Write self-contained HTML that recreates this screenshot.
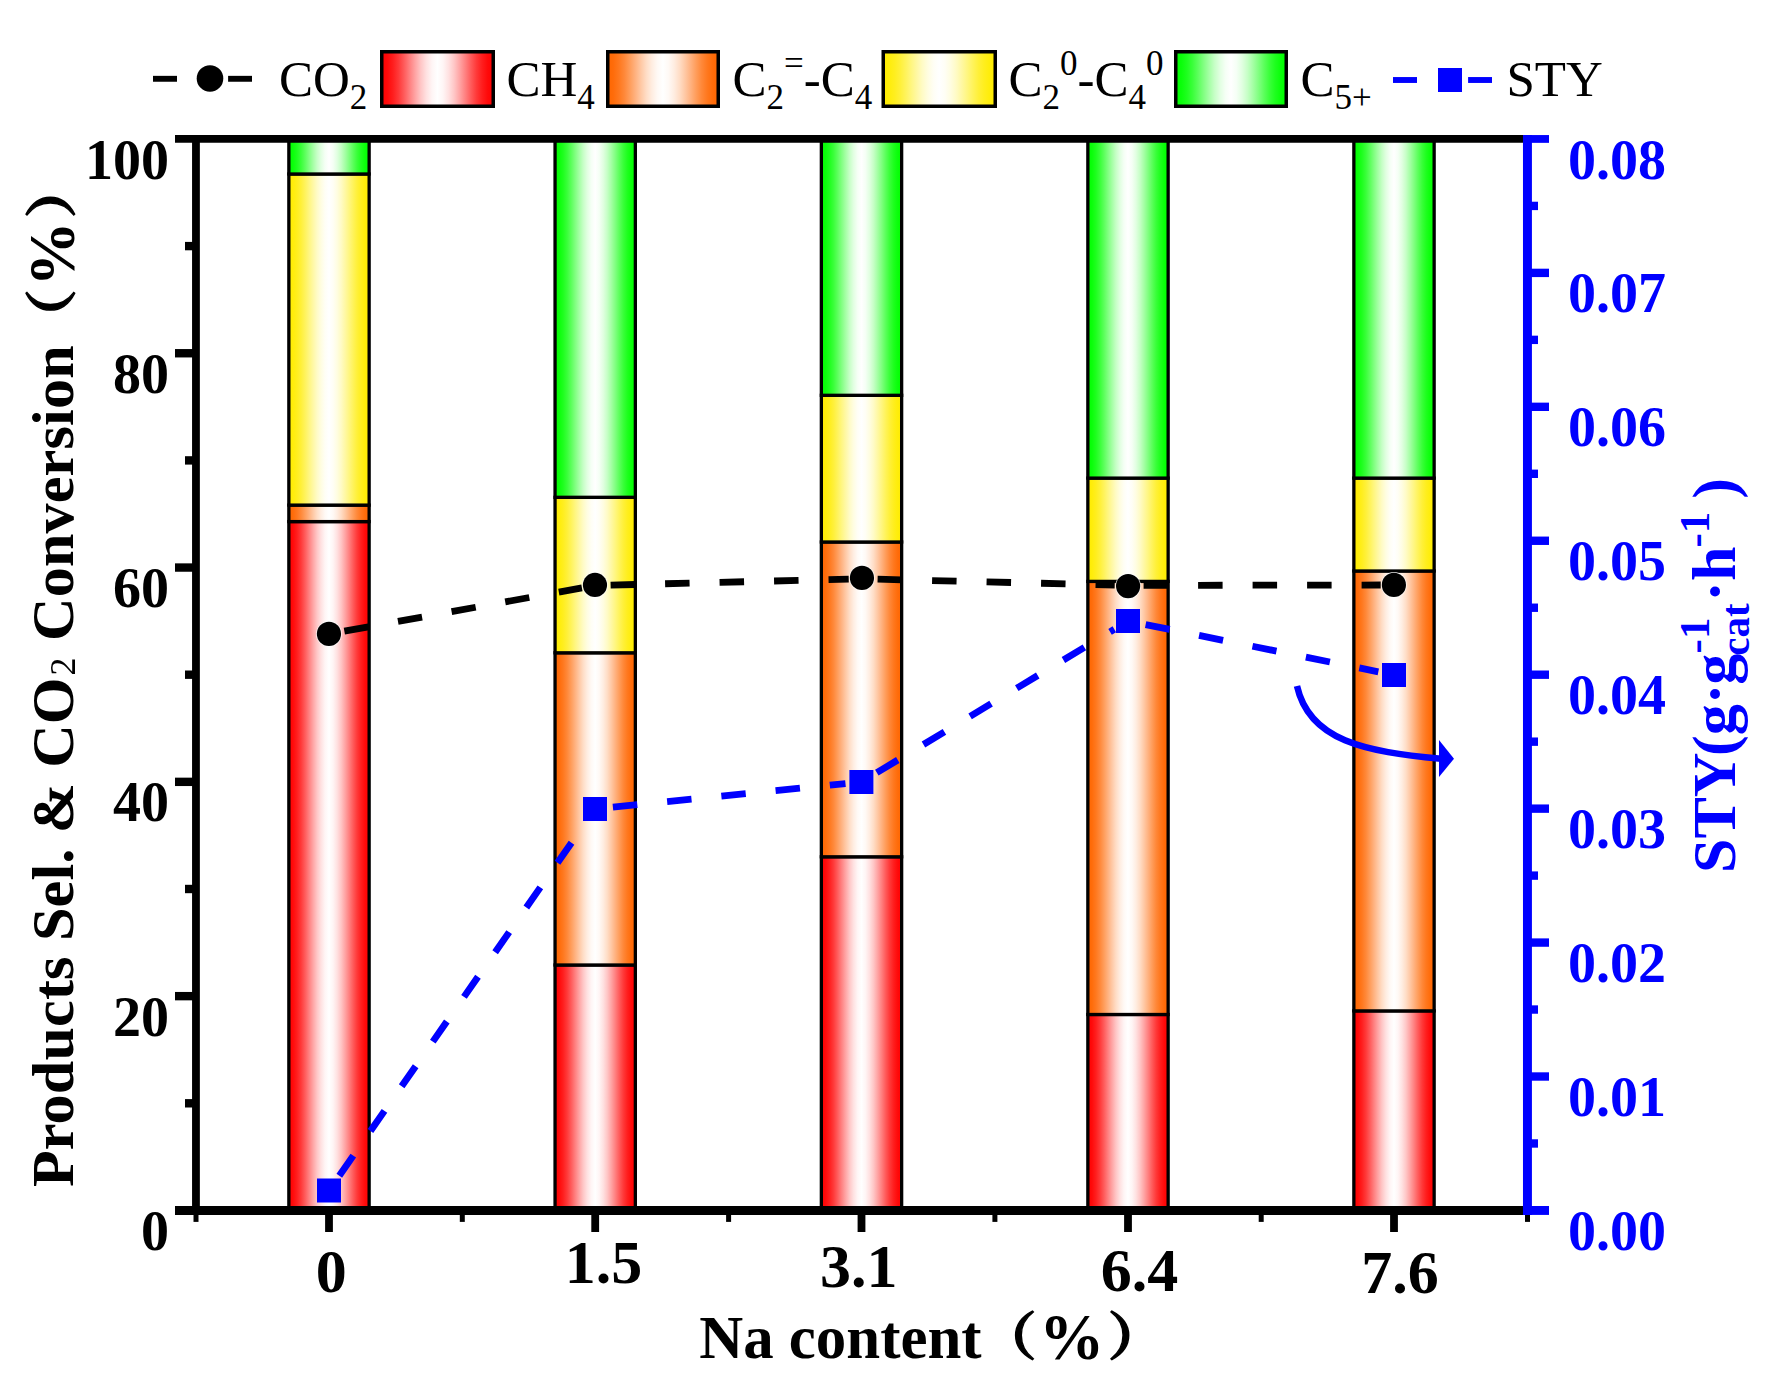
<!DOCTYPE html>
<html lang="en">
<head>
<meta charset="utf-8">
<title>Products Sel. &amp; CO2 Conversion vs Na content</title>
<style>
html,body{margin:0;padding:0;background:#fff;}
body{width:1776px;height:1392px;overflow:hidden;}
svg{display:block;}
</style>
</head>
<body>
<svg width="1776" height="1392" viewBox="0 0 1776 1392">
<defs>
<linearGradient id="g_red" x1="0" y1="0" x2="1" y2="0"><stop offset="0.000" stop-color="rgb(255,0,0)"/><stop offset="0.050" stop-color="rgb(255,10,10)"/><stop offset="0.100" stop-color="rgb(255,30,30)"/><stop offset="0.150" stop-color="rgb(255,57,57)"/><stop offset="0.200" stop-color="rgb(255,91,91)"/><stop offset="0.250" stop-color="rgb(255,128,128)"/><stop offset="0.300" stop-color="rgb(255,164,164)"/><stop offset="0.350" stop-color="rgb(255,198,198)"/><stop offset="0.400" stop-color="rgb(255,225,225)"/><stop offset="0.450" stop-color="rgb(255,245,245)"/><stop offset="0.500" stop-color="rgb(255,255,255)"/><stop offset="0.550" stop-color="rgb(255,245,245)"/><stop offset="0.600" stop-color="rgb(255,225,225)"/><stop offset="0.650" stop-color="rgb(255,198,198)"/><stop offset="0.700" stop-color="rgb(255,164,164)"/><stop offset="0.750" stop-color="rgb(255,128,128)"/><stop offset="0.800" stop-color="rgb(255,91,91)"/><stop offset="0.850" stop-color="rgb(255,57,57)"/><stop offset="0.900" stop-color="rgb(255,30,30)"/><stop offset="0.950" stop-color="rgb(255,10,10)"/><stop offset="1.000" stop-color="rgb(255,0,0)"/></linearGradient>
<linearGradient id="g_orange" x1="0" y1="0" x2="1" y2="0"><stop offset="0.000" stop-color="rgb(255,102,0)"/><stop offset="0.050" stop-color="rgb(255,108,10)"/><stop offset="0.100" stop-color="rgb(255,120,30)"/><stop offset="0.150" stop-color="rgb(255,136,57)"/><stop offset="0.200" stop-color="rgb(255,157,91)"/><stop offset="0.250" stop-color="rgb(255,178,128)"/><stop offset="0.300" stop-color="rgb(255,200,164)"/><stop offset="0.350" stop-color="rgb(255,221,198)"/><stop offset="0.400" stop-color="rgb(255,237,225)"/><stop offset="0.450" stop-color="rgb(255,249,245)"/><stop offset="0.500" stop-color="rgb(255,255,255)"/><stop offset="0.550" stop-color="rgb(255,249,245)"/><stop offset="0.600" stop-color="rgb(255,237,225)"/><stop offset="0.650" stop-color="rgb(255,221,198)"/><stop offset="0.700" stop-color="rgb(255,200,164)"/><stop offset="0.750" stop-color="rgb(255,178,128)"/><stop offset="0.800" stop-color="rgb(255,157,91)"/><stop offset="0.850" stop-color="rgb(255,136,57)"/><stop offset="0.900" stop-color="rgb(255,120,30)"/><stop offset="0.950" stop-color="rgb(255,108,10)"/><stop offset="1.000" stop-color="rgb(255,102,0)"/></linearGradient>
<linearGradient id="g_yellow" x1="0" y1="0" x2="1" y2="0"><stop offset="0.000" stop-color="rgb(255,236,0)"/><stop offset="0.050" stop-color="rgb(255,237,10)"/><stop offset="0.100" stop-color="rgb(255,238,30)"/><stop offset="0.150" stop-color="rgb(255,240,57)"/><stop offset="0.200" stop-color="rgb(255,243,91)"/><stop offset="0.250" stop-color="rgb(255,246,128)"/><stop offset="0.300" stop-color="rgb(255,248,164)"/><stop offset="0.350" stop-color="rgb(255,251,198)"/><stop offset="0.400" stop-color="rgb(255,253,225)"/><stop offset="0.450" stop-color="rgb(255,254,245)"/><stop offset="0.500" stop-color="rgb(255,255,255)"/><stop offset="0.550" stop-color="rgb(255,254,245)"/><stop offset="0.600" stop-color="rgb(255,253,225)"/><stop offset="0.650" stop-color="rgb(255,251,198)"/><stop offset="0.700" stop-color="rgb(255,248,164)"/><stop offset="0.750" stop-color="rgb(255,246,128)"/><stop offset="0.800" stop-color="rgb(255,243,91)"/><stop offset="0.850" stop-color="rgb(255,240,57)"/><stop offset="0.900" stop-color="rgb(255,238,30)"/><stop offset="0.950" stop-color="rgb(255,237,10)"/><stop offset="1.000" stop-color="rgb(255,236,0)"/></linearGradient>
<linearGradient id="g_green" x1="0" y1="0" x2="1" y2="0"><stop offset="0.000" stop-color="rgb(0,255,0)"/><stop offset="0.050" stop-color="rgb(10,255,10)"/><stop offset="0.100" stop-color="rgb(30,255,30)"/><stop offset="0.150" stop-color="rgb(57,255,57)"/><stop offset="0.200" stop-color="rgb(91,255,91)"/><stop offset="0.250" stop-color="rgb(128,255,128)"/><stop offset="0.300" stop-color="rgb(164,255,164)"/><stop offset="0.350" stop-color="rgb(198,255,198)"/><stop offset="0.400" stop-color="rgb(225,255,225)"/><stop offset="0.450" stop-color="rgb(245,255,245)"/><stop offset="0.500" stop-color="rgb(255,255,255)"/><stop offset="0.550" stop-color="rgb(245,255,245)"/><stop offset="0.600" stop-color="rgb(225,255,225)"/><stop offset="0.650" stop-color="rgb(198,255,198)"/><stop offset="0.700" stop-color="rgb(164,255,164)"/><stop offset="0.750" stop-color="rgb(128,255,128)"/><stop offset="0.800" stop-color="rgb(91,255,91)"/><stop offset="0.850" stop-color="rgb(57,255,57)"/><stop offset="0.900" stop-color="rgb(30,255,30)"/><stop offset="0.950" stop-color="rgb(10,255,10)"/><stop offset="1.000" stop-color="rgb(0,255,0)"/></linearGradient>
</defs>
<rect x="288.85" y="521.60" width="80.30" height="688.85" fill="url(#g_red)" stroke="#000" stroke-width="3.30"/>
<rect x="288.85" y="505.10" width="80.30" height="16.50" fill="url(#g_orange)" stroke="#000" stroke-width="3.30"/>
<rect x="288.85" y="174.00" width="80.30" height="331.10" fill="url(#g_yellow)" stroke="#000" stroke-width="3.30"/>
<rect x="288.85" y="138.95" width="80.30" height="35.05" fill="url(#g_green)" stroke="#000" stroke-width="3.30"/>
<rect x="555.05" y="965.00" width="80.30" height="245.45" fill="url(#g_red)" stroke="#000" stroke-width="3.30"/>
<rect x="555.05" y="652.80" width="80.30" height="312.20" fill="url(#g_orange)" stroke="#000" stroke-width="3.30"/>
<rect x="555.05" y="497.30" width="80.30" height="155.50" fill="url(#g_yellow)" stroke="#000" stroke-width="3.30"/>
<rect x="555.05" y="138.95" width="80.30" height="358.35" fill="url(#g_green)" stroke="#000" stroke-width="3.30"/>
<rect x="821.35" y="856.80" width="80.30" height="353.65" fill="url(#g_red)" stroke="#000" stroke-width="3.30"/>
<rect x="821.35" y="542.00" width="80.30" height="314.80" fill="url(#g_orange)" stroke="#000" stroke-width="3.30"/>
<rect x="821.35" y="395.30" width="80.30" height="146.70" fill="url(#g_yellow)" stroke="#000" stroke-width="3.30"/>
<rect x="821.35" y="138.95" width="80.30" height="256.35" fill="url(#g_green)" stroke="#000" stroke-width="3.30"/>
<rect x="1087.85" y="1014.50" width="80.30" height="195.95" fill="url(#g_red)" stroke="#000" stroke-width="3.30"/>
<rect x="1087.85" y="581.40" width="80.30" height="433.10" fill="url(#g_orange)" stroke="#000" stroke-width="3.30"/>
<rect x="1087.85" y="478.10" width="80.30" height="103.30" fill="url(#g_yellow)" stroke="#000" stroke-width="3.30"/>
<rect x="1087.85" y="138.95" width="80.30" height="339.15" fill="url(#g_green)" stroke="#000" stroke-width="3.30"/>
<rect x="1353.85" y="1010.90" width="80.30" height="199.55" fill="url(#g_red)" stroke="#000" stroke-width="3.30"/>
<rect x="1353.85" y="571.00" width="80.30" height="439.90" fill="url(#g_orange)" stroke="#000" stroke-width="3.30"/>
<rect x="1353.85" y="478.10" width="80.30" height="92.90" fill="url(#g_yellow)" stroke="#000" stroke-width="3.30"/>
<rect x="1353.85" y="138.95" width="80.30" height="339.15" fill="url(#g_green)" stroke="#000" stroke-width="3.30"/>
<g stroke="#000" fill="none">
<line x1="175" y1="138.95" x2="1523.28" y2="138.95" stroke-width="7.80"/>
<line x1="175" y1="1210.45" x2="1523.28" y2="1210.45" stroke-width="8.95"/>
<line x1="195.96" y1="135.05" x2="195.96" y2="1214.92" stroke-width="7.80"/>
<line x1="185" y1="1103.30" x2="195.96" y2="1103.30" stroke-width="8.4"/>
<line x1="175" y1="996.15" x2="195.96" y2="996.15" stroke-width="8.4"/>
<line x1="185" y1="889.00" x2="195.96" y2="889.00" stroke-width="8.4"/>
<line x1="175" y1="781.85" x2="195.96" y2="781.85" stroke-width="8.4"/>
<line x1="185" y1="674.70" x2="195.96" y2="674.70" stroke-width="8.4"/>
<line x1="175" y1="567.55" x2="195.96" y2="567.55" stroke-width="8.4"/>
<line x1="185" y1="460.40" x2="195.96" y2="460.40" stroke-width="8.4"/>
<line x1="175" y1="353.25" x2="195.96" y2="353.25" stroke-width="8.4"/>
<line x1="185" y1="246.10" x2="195.96" y2="246.10" stroke-width="8.4"/>
<line x1="329.00" y1="1210.45" x2="329.00" y2="1232" stroke-width="7.8"/>
<line x1="595.20" y1="1210.45" x2="595.20" y2="1232" stroke-width="7.8"/>
<line x1="861.50" y1="1210.45" x2="861.50" y2="1232" stroke-width="7.8"/>
<line x1="1128.00" y1="1210.45" x2="1128.00" y2="1232" stroke-width="7.8"/>
<line x1="1394.00" y1="1210.45" x2="1394.00" y2="1232" stroke-width="7.8"/>
<line x1="196.00" y1="1210.45" x2="196.00" y2="1221.9" stroke-width="5"/>
<line x1="462.30" y1="1210.45" x2="462.30" y2="1221.9" stroke-width="5"/>
<line x1="728.60" y1="1210.45" x2="728.60" y2="1221.9" stroke-width="5"/>
<line x1="994.90" y1="1210.45" x2="994.90" y2="1221.9" stroke-width="5"/>
<line x1="1261.20" y1="1210.45" x2="1261.20" y2="1221.9" stroke-width="5"/>
<line x1="1527.50" y1="1210.45" x2="1527.50" y2="1221.9" stroke-width="5"/>
</g>
<g stroke="#0000ff" fill="none">
<line x1="1527.45" y1="135.05" x2="1527.45" y2="1214.92" stroke-width="8.95"/>
<line x1="1527.45" y1="1210.45" x2="1549" y2="1210.45" stroke-width="8.95"/>
<line x1="1527.45" y1="1143.48" x2="1538" y2="1143.48" stroke-width="8.40"/>
<line x1="1527.45" y1="1076.51" x2="1549" y2="1076.51" stroke-width="8.40"/>
<line x1="1527.45" y1="1009.54" x2="1538" y2="1009.54" stroke-width="8.40"/>
<line x1="1527.45" y1="942.58" x2="1549" y2="942.58" stroke-width="8.40"/>
<line x1="1527.45" y1="875.61" x2="1538" y2="875.61" stroke-width="8.40"/>
<line x1="1527.45" y1="808.64" x2="1549" y2="808.64" stroke-width="8.40"/>
<line x1="1527.45" y1="741.67" x2="1538" y2="741.67" stroke-width="8.40"/>
<line x1="1527.45" y1="674.70" x2="1549" y2="674.70" stroke-width="8.40"/>
<line x1="1527.45" y1="607.73" x2="1538" y2="607.73" stroke-width="8.40"/>
<line x1="1527.45" y1="540.76" x2="1549" y2="540.76" stroke-width="8.40"/>
<line x1="1527.45" y1="473.79" x2="1538" y2="473.79" stroke-width="8.40"/>
<line x1="1527.45" y1="406.83" x2="1549" y2="406.83" stroke-width="8.40"/>
<line x1="1527.45" y1="339.86" x2="1538" y2="339.86" stroke-width="8.40"/>
<line x1="1527.45" y1="272.89" x2="1549" y2="272.89" stroke-width="8.40"/>
<line x1="1527.45" y1="205.92" x2="1538" y2="205.92" stroke-width="8.40"/>
<line x1="1527.45" y1="138.95" x2="1549" y2="138.95" stroke-width="7.80"/>
</g>
<line x1="344.35" y1="631.20" x2="581.92" y2="587.89" stroke="#000" stroke-width="6.80" stroke-dasharray="24.5 30.0"/>
<line x1="610.60" y1="585.11" x2="848.70" y2="579.13" stroke="#000" stroke-width="6.80" stroke-dasharray="24.5 30.0"/>
<line x1="877.60" y1="579.19" x2="1114.70" y2="585.07" stroke="#000" stroke-width="6.80" stroke-dasharray="24.5 30.0"/>
<line x1="1143.60" y1="585.38" x2="1380.70" y2="585.02" stroke="#000" stroke-width="6.80" stroke-dasharray="24.5 30.0"/>
<circle cx="328.95" cy="633.90" r="12.8" fill="#fff" fill-opacity="0.85"/>
<circle cx="328.95" cy="633.90" r="12.1" fill="#000"/>
<circle cx="594.97" cy="584.95" r="12.8" fill="#fff" fill-opacity="0.85"/>
<circle cx="594.97" cy="584.95" r="12.1" fill="#000"/>
<circle cx="861.95" cy="577.90" r="12.8" fill="#fff" fill-opacity="0.85"/>
<circle cx="861.95" cy="577.90" r="12.1" fill="#000"/>
<circle cx="1128.10" cy="586.10" r="12.8" fill="#fff" fill-opacity="0.85"/>
<circle cx="1128.10" cy="586.10" r="12.1" fill="#000"/>
<circle cx="1393.90" cy="584.90" r="12.8" fill="#fff" fill-opacity="0.85"/>
<circle cx="1393.90" cy="584.90" r="12.1" fill="#000"/>
<line x1="339.30" y1="1175.73" x2="585.85" y2="822.12" stroke="#0000ff" stroke-width="6.80" stroke-dasharray="24.5 30.0"/>
<line x1="612.91" y1="807.18" x2="845.48" y2="783.61" stroke="#0000ff" stroke-width="6.80" stroke-dasharray="24.5 30.0"/>
<line x1="876.81" y1="772.69" x2="1114.30" y2="629.27" stroke="#0000ff" stroke-width="6.80" stroke-dasharray="24.5 30.0"/>
<line x1="1145.64" y1="624.58" x2="1378.32" y2="671.82" stroke="#0000ff" stroke-width="6.80" stroke-dasharray="24.5 30.0"/>
<rect x="317.00" y="1178.50" width="24" height="24" fill="#0000ff"/>
<rect x="583.00" y="797.00" width="24" height="24" fill="#0000ff"/>
<rect x="849.40" y="770.00" width="24" height="24" fill="#0000ff"/>
<rect x="1116.00" y="609.00" width="24" height="24" fill="#0000ff"/>
<rect x="1382.00" y="663.00" width="24" height="24" fill="#0000ff"/>
<path d="M1297,686 C1309.3,740.8 1364.7,751.6 1441,758.8" fill="none" stroke="#0000ff" stroke-width="6.5"/>
<polygon points="1439,740 1439,777 1454,758.7" fill="#0000ff"/>
<g font-family='"Liberation Serif", "Noto Serif CJK SC", serif' font-weight="bold" font-size="56" fill="#000" text-anchor="end">
<text x="169" y="1250.05">0</text>
<text x="169" y="1035.75">20</text>
<text x="169" y="821.45">40</text>
<text x="169" y="607.15">60</text>
<text x="169" y="392.85">80</text>
<text x="169" y="178.55">100</text>
</g>
<g font-family='"Liberation Serif", "Noto Serif CJK SC", serif' font-weight="bold" font-size="56" fill="#0000ff" text-anchor="start">
<text x="1568" y="1250.05">0.00</text>
<text x="1568" y="1116.11">0.01</text>
<text x="1568" y="982.18">0.02</text>
<text x="1568" y="848.24">0.03</text>
<text x="1568" y="714.30">0.04</text>
<text x="1568" y="580.36">0.05</text>
<text x="1568" y="446.43">0.06</text>
<text x="1568" y="312.49">0.07</text>
<text x="1568" y="178.55">0.08</text>
</g>
<g font-family='"Liberation Serif", "Noto Serif CJK SC", serif' font-weight="bold" font-size="62" fill="#000" text-anchor="middle">
<text x="331.20" y="1292.30">0</text>
<text x="603.40" y="1282.50">1.5</text>
<text x="858.80" y="1286.50">3.1</text>
<text x="1139.50" y="1290.50">6.4</text>
<text x="1400.00" y="1292.80">7.6</text>
</g>
<text x="699.3" y="1358" font-family='"Liberation Serif", "Noto Serif CJK SC", serif' font-weight="bold" font-size="60.85" fill="#000" xml:space="preserve">Na content</text>
<text transform="translate(977.4,1354.6) scale(1.153,1)" font-family='"Liberation Serif", "Noto Serif CJK SC", serif' font-weight="bold" font-size="51.5" stroke="#000" stroke-width="1.25" fill="#000">（</text>
<text x="1039.3" y="1358.7" font-family='"Liberation Serif", "Noto Serif CJK SC", serif' font-weight="bold" font-size="65" fill="#000">%</text>
<text transform="translate(1107.4,1354.6) scale(1.153,1)" font-family='"Liberation Serif", "Noto Serif CJK SC", serif' font-weight="bold" font-size="51.5" stroke="#000" stroke-width="1.25" fill="#000">）</text>
<text transform="translate(72.8,1187.1) rotate(-90)" font-family='"Liberation Serif", "Noto Serif CJK SC", serif' font-weight="bold" font-size="60.15" letter-spacing="0.17" fill="#000" xml:space="preserve">Products Sel. &amp; CO<tspan dy="-9.6" font-weight="normal">₂</tspan><tspan dy="9.6"> Conversion</tspan></text>
<text transform="translate(70.1,348.2) rotate(-90) scale(1.153,1)" font-family='"Liberation Serif", "Noto Serif CJK SC", serif' font-weight="bold" font-size="51.5" stroke="#000" stroke-width="1.25" fill="#000">（</text>
<text transform="translate(73.9,286.4) rotate(-90)" font-family='"Liberation Serif", "Noto Serif CJK SC", serif' font-weight="bold" font-size="65" fill="#000">%</text>
<text transform="translate(70.1,218.4) rotate(-90) scale(1.153,1)" font-family='"Liberation Serif", "Noto Serif CJK SC", serif' font-weight="bold" font-size="51.5" stroke="#000" stroke-width="1.25" fill="#000">）</text>
<text transform="translate(1734.5,873) rotate(-90)" font-family='"Liberation Serif", "Noto Serif CJK SC", serif' font-weight="bold" font-size="62" fill="#0000ff" xml:space="preserve">STY<tspan dx="-3.5">(g·</tspan><tspan dx="-1.2">g</tspan><tspan font-size="41" dy="14" dx="-2">cat</tspan><tspan font-size="43" dx="-50" dy="-40">-1</tspan><tspan dy="26" dx="15.8">·h</tspan><tspan font-size="43" dy="-26" dx="-1">-1</tspan><tspan dy="26" dx="-2.5"> )</tspan></text>
<g stroke="#000" stroke-width="5.9"><line x1="153" y1="78.8" x2="177" y2="78.8"/><line x1="228.1" y1="78.8" x2="252" y2="78.8"/></g>
<circle cx="210" cy="78.45" r="13.3" fill="#000"/>
<rect x="381.75" y="51.75" width="111.50" height="54.50" fill="url(#g_red)" stroke="#000" stroke-width="3.5"/>
<rect x="607.75" y="51.75" width="110.50" height="54.50" fill="url(#g_orange)" stroke="#000" stroke-width="3.5"/>
<rect x="883.25" y="51.75" width="112.00" height="54.50" fill="url(#g_yellow)" stroke="#000" stroke-width="3.5"/>
<rect x="1175.75" y="51.75" width="110.50" height="54.50" fill="url(#g_green)" stroke="#000" stroke-width="3.5"/>
<g stroke="#0000ff" stroke-width="5.9"><line x1="1393" y1="80" x2="1417" y2="80"/><line x1="1468.1" y1="80" x2="1492" y2="80"/></g>
<rect x="1438" y="68" width="24" height="24" fill="#0000ff"/>
<g font-family='"Liberation Serif", "Noto Serif CJK SC", serif' font-size="51" fill="#000">
<text x="279" y="96">CO<tspan font-size="35" dy="12.5">2</tspan></text>
<text x="506.5" y="96">CH<tspan font-size="35" dy="12.5">4</tspan></text>
<text x="732.5" y="96">C<tspan font-size="35" dy="12.5">2</tspan><tspan font-size="35" dy="-33.7">=</tspan><tspan font-size="51" dy="21.2">-C</tspan><tspan font-size="35" dy="12.5">4</tspan></text>
<text x="1008.5" y="96">C<tspan font-size="35" dy="12.5">2</tspan><tspan font-size="35" dy="-33.7">0</tspan><tspan font-size="51" dy="21.2">-C</tspan><tspan font-size="35" dy="12.5">4</tspan><tspan font-size="35" dy="-33.7">0</tspan></text>
<text x="1300.5" y="96">C<tspan font-size="35" dy="12.5">5+</tspan></text>
<text x="1506.5" y="96">STY</text>
</g>
</svg>
</body>
</html>
